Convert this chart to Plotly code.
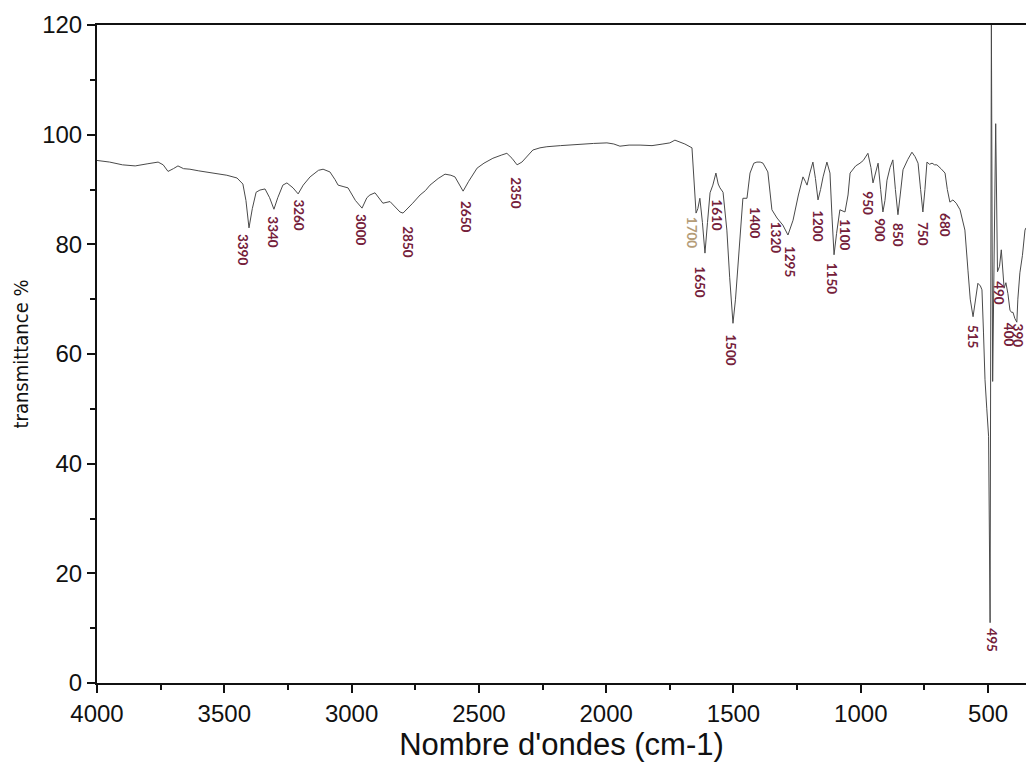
import plotly.graph_objects as go

# Spectrum (wavenumber cm-1, transmittance %)
wavenumber = [4000, 3950, 3900, 3850, 3800, 3760, 3740, 3721, 3700, 3682, 3660, 3635, 3600, 3568,
              3530, 3490, 3450, 3427, 3415, 3403, 3390, 3375, 3360, 3340, 3322, 3305, 3290, 3270,
              3254, 3230, 3210, 3190, 3163, 3130, 3112, 3085, 3065, 3053, 3030, 3014, 2985, 2959,
              2940, 2928, 2908, 2890, 2877, 2849, 2830, 2810, 2798, 2780, 2760, 2731, 2710, 2692,
              2660, 2633, 2610, 2594, 2578, 2562, 2540, 2507, 2480, 2445, 2410, 2390, 2370, 2350,
              2331, 2310, 2288, 2260, 2233, 2180, 2103, 2050, 1997, 1970, 1946, 1910, 1867, 1820,
              1777, 1750, 1730, 1710, 1691, 1663, 1655, 1647, 1640, 1632, 1622, 1612, 1602, 1592,
              1581, 1569, 1560, 1553, 1541, 1535, 1526, 1515, 1502, 1492, 1482, 1467, 1463, 1447,
              1435, 1420, 1408, 1395, 1384, 1365, 1355, 1349, 1329, 1306, 1286, 1266, 1245, 1227,
              1218, 1211, 1200, 1188, 1178, 1168, 1158, 1148, 1133, 1121, 1113, 1105, 1095, 1082,
              1062, 1050, 1042, 1020, 1003, 990, 972, 960, 952, 942, 932, 922, 913, 905, 897, 885,
              874, 864, 854, 845, 834, 815, 799, 787, 775, 765, 756, 748, 740, 730, 720, 710, 701,
              685, 669, 660, 650, 638, 625, 610, 600, 591, 579, 570, 559, 550, 540, 530, 524, 518,
              512, 505, 498, 492, 487, 482, 470, 463, 455, 448, 443, 437, 430, 422, 414, 408, 402,
              395, 387, 383, 375, 365, 355, 351]
transmittance = [95.3, 95.0, 94.5, 94.3, 94.7, 95.0, 94.5, 93.3, 93.8, 94.3, 93.8, 93.7, 93.4, 93.2,
                 92.9, 92.6, 92.1, 91.0, 88.0, 83.0, 86.5, 89.5, 89.9, 90.1, 88.5, 86.4, 88.5, 90.8,
                 91.2, 90.3, 89.2, 90.8, 92.3, 93.5, 93.7, 93.2, 91.8, 90.8, 90.5, 90.3, 88.0, 86.6,
                 88.5, 89.0, 89.4, 88.3, 87.5, 87.8, 86.8, 85.9, 85.7, 86.5, 87.5, 89.0, 89.8, 90.8,
                 92.0, 92.8, 92.6, 92.3, 91.0, 89.7, 91.5, 93.9, 94.8, 95.7, 96.3, 96.6, 95.7, 94.5,
                 95.0, 96.0, 97.2, 97.6, 97.8, 98.0, 98.3, 98.4, 98.5, 98.3, 97.9, 98.1, 98.1, 98.0,
                 98.3, 98.5, 99.0, 98.7, 98.3, 97.6, 92.0, 85.7, 86.5, 88.4, 84.0, 78.4, 84.0, 89.4,
                 90.8, 93.0, 91.0, 90.3, 89.5, 87.0, 82.6, 74.0, 65.6, 70.0, 76.6, 87.5, 88.4, 88.4,
                 93.0, 94.8, 95.0, 95.0, 94.8, 93.2, 89.0, 86.3, 84.8, 83.5, 81.7, 84.4, 89.0, 92.3,
                 91.5, 90.8, 93.0, 95.0, 92.0, 88.1, 90.0, 92.3, 95.0, 93.0, 85.0, 78.1, 82.0, 86.3,
                 85.9, 89.0, 93.0, 94.3, 94.8, 95.3, 96.6, 94.0, 91.2, 93.0, 94.8, 90.0, 85.9, 88.0,
                 91.7, 94.0, 95.4, 90.0, 85.4, 89.0, 93.6, 95.5, 96.8, 96.0, 94.8, 90.0, 85.9, 90.0,
                 95.0, 94.6, 94.8, 94.5, 94.5, 93.8, 93.0, 90.0, 87.7, 88.1, 87.5, 86.3, 84.5, 82.6,
                 75.3, 70.0, 66.8, 70.0, 72.9, 72.4, 71.7, 64.0, 55.3, 50.0, 45.0, 11.0, 121.0, 55.0,
                 102.0, 75.0, 76.0, 79.0, 75.0, 72.0, 73.0, 71.0, 68.0, 67.6, 67.6, 66.5, 65.8, 70.0,
                 74.8, 78.0, 82.6, 83.0]

# Peak labels
peak_labels = ["3390", "3340", "3260", "3000", "2850", "2650", "2350", "1700", "1610", "1650",
               "1500", "1400", "1320", "1295", "1200", "1150", "1100", "950", "900", "850",
               "750", "680", "515", "490", "400", "390", "495"]
label_x = [3427, 3309, 3207, 2963, 2779, 2551, 2354, 1663, 1565, 1632,
           1510, 1416, 1333, 1278, 1168, 1113, 1062, 972, 925, 854,
           756, 669, 559, 457, 418, 381, 485]
label_y = [79.0, 82.2, 85.3, 82.8, 80.4, 85.0, 89.5, 82.1, 85.3, 73.1,
           60.7, 83.9, 81.2, 76.8, 83.5, 73.9, 81.7, 87.5, 82.6, 81.7,
           81.9, 83.5, 63.1, 71.1, 63.5, 63.3, 7.8]

fig = go.Figure()
fig.add_trace(go.Scatter(x=wavenumber, y=transmittance, mode="lines",
                         line=dict(color="#4a4a4a", width=1), hoverinfo="skip"))

for t, lx, ly in zip(peak_labels, label_x, label_y):
    col = "#b49c78" if t == "1700" else "#74203a"
    fig.add_annotation(x=lx, y=ly, text="<b>" + t + "</b>", showarrow=False, textangle=90,
                       xanchor="center", yanchor="middle",
                       font=dict(family="Lato, Open Sans, sans-serif", size=13.5, color=col))

axis_font = dict(family="Liberation Sans, Arial, sans-serif", size=24, color="#111")
fig.update_layout(
    width=1026, height=780,
    margin=dict(l=97, r=0, t=25, b=97),
    plot_bgcolor="white", paper_bgcolor="white",
    showlegend=False,
    xaxis=dict(range=[4000, 351], tickvals=[4000, 3500, 3000, 2500, 2000, 1500, 1000, 500],
               ticks="outside", ticklen=8, tickwidth=2, tickcolor="#111",
               showline=True, linecolor="#111", linewidth=2, mirror=True,
               showgrid=False, zeroline=False, tickfont=axis_font,
               minor=dict(dtick=250, ticks="outside", ticklen=5, tickwidth=2, tickcolor="#111", showgrid=False),
               title=dict(text="Nombre d'ondes (cm-1)",
                          font=dict(family="Liberation Sans, Arial, sans-serif", size=31, color="#111"),
                          standoff=8)),
    yaxis=dict(range=[0, 120], tickvals=[0, 20, 40, 60, 80, 100, 120],
               ticks="outside", ticklen=8, tickwidth=2, tickcolor="#111",
               showline=True, linecolor="#111", linewidth=2, mirror=False,
               showgrid=False, zeroline=False, tickfont=axis_font,
               minor=dict(dtick=10, ticks="outside", ticklen=5, tickwidth=2, tickcolor="#111", showgrid=False),
               title=dict(text="transmittance %",
                          font=dict(family="Liberation Sans Narrow, DejaVu Sans Condensed, sans-serif", size=20, color="#111"),
                          standoff=8)),
)
fig.write_html("out.html")
